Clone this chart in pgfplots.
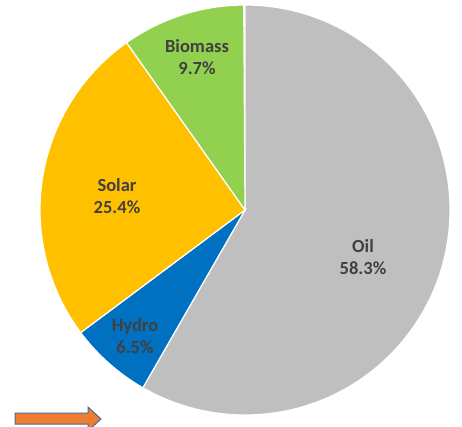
\documentclass[border=0pt]{standalone}
\usepackage{pgfplots}
\pgfplotsset{compat=1.18}
\usepackage{pgfplotstable}
\usepackage{fontspec}
\setmainfont{Carlito}
\definecolor{oilgray}{HTML}{BFBFBF}
\definecolor{hydroblue}{HTML}{0070C0}
\definecolor{solaryellow}{HTML}{FFC000}
\definecolor{biogreen}{HTML}{92D050}
\definecolor{labelgray}{HTML}{404040}
\definecolor{arroworange}{HTML}{ED7D31}
\definecolor{arrowedge}{HTML}{41719C}

\pgfplotstableread{
label value
Oil 58.3
Hydro 6.5
Solar 25.4
Biomass 9.7
}\piedata

\pgfplotstablegetelem{0}{value}\of\piedata \let\vOil\pgfplotsretval
\pgfplotstablegetelem{1}{value}\of\piedata \let\vHydro\pgfplotsretval
\pgfplotstablegetelem{2}{value}\of\piedata \let\vSolar\pgfplotsretval
\pgfplotstablegetelem{3}{value}\of\piedata \let\vBio\pgfplotsretval
\pgfmathsetmacro\aZ{90}
\pgfmathsetmacro\aA{\aZ-3.6*\vOil}
\pgfmathsetmacro\aB{\aA-3.6*\vHydro}
\pgfmathsetmacro\aC{\aB-3.6*\vSolar}
\pgfmathsetmacro\aD{\aC-3.6*\vBio}

\begin{document}
\begin{tikzpicture}
\useasboundingbox (0,0) rectangle (462pt,426pt);
\clip (0,0) rectangle (462pt,426pt);
\begin{axis}[
  x=1pt, y=1pt,
  xmin=0, xmax=462, ymin=0, ymax=426,
  scale only axis, hide axis, clip=false,
  at={(0,0)}, anchor=south west,
]
\def\cx{245}\def\cy{216}\def\R{205}
\fill[oilgray, draw=white, line width=1.2pt] (axis cs:\cx,\cy) -- (axis cs:{\cx+\R*cos(\aZ)},{\cy+\R*sin(\aZ)}) arc[start angle=\aZ, end angle=\aA, radius=\R] -- cycle;
\fill[hydroblue, draw=white, line width=1.2pt] (axis cs:\cx,\cy) -- (axis cs:{\cx+\R*cos(\aA)},{\cy+\R*sin(\aA)}) arc[start angle=\aA, end angle=\aB, radius=\R] -- cycle;
\fill[solaryellow, draw=white, line width=1.2pt] (axis cs:\cx,\cy) -- (axis cs:{\cx+\R*cos(\aB)},{\cy+\R*sin(\aB)}) arc[start angle=\aB, end angle=\aC, radius=\R] -- cycle;
\fill[biogreen, draw=white, line width=1.2pt] (axis cs:\cx,\cy) -- (axis cs:{\cx+\R*cos(\aC)},{\cy+\R*sin(\aC)}) arc[start angle=\aC, end angle=\aD, radius=\R] -- cycle;

\tikzset{lbl/.style={font=\bfseries\fontsize{18.5}{22}\selectfont, text=labelgray, align=center, inner sep=0pt}}
\node[lbl] at (axis cs:197,369) {Biomass\\9.7\%};
\node[lbl] at (axis cs:117,230) {Solar\\25.4\%};
\node[lbl] at (axis cs:135,90) {Hydro\\6.5\%};
\node[lbl] at (axis cs:363,169) {Oil\\58.3\%};

\filldraw[fill=arroworange, draw=arrowedge, line width=1pt]
  (axis cs:15,13) -- (axis cs:88,13) -- (axis cs:88,19) -- (axis cs:101,7)
  -- (axis cs:88,-5) -- (axis cs:88,2) -- (axis cs:15,2) -- cycle;
\end{axis}
\end{tikzpicture}
\end{document}
